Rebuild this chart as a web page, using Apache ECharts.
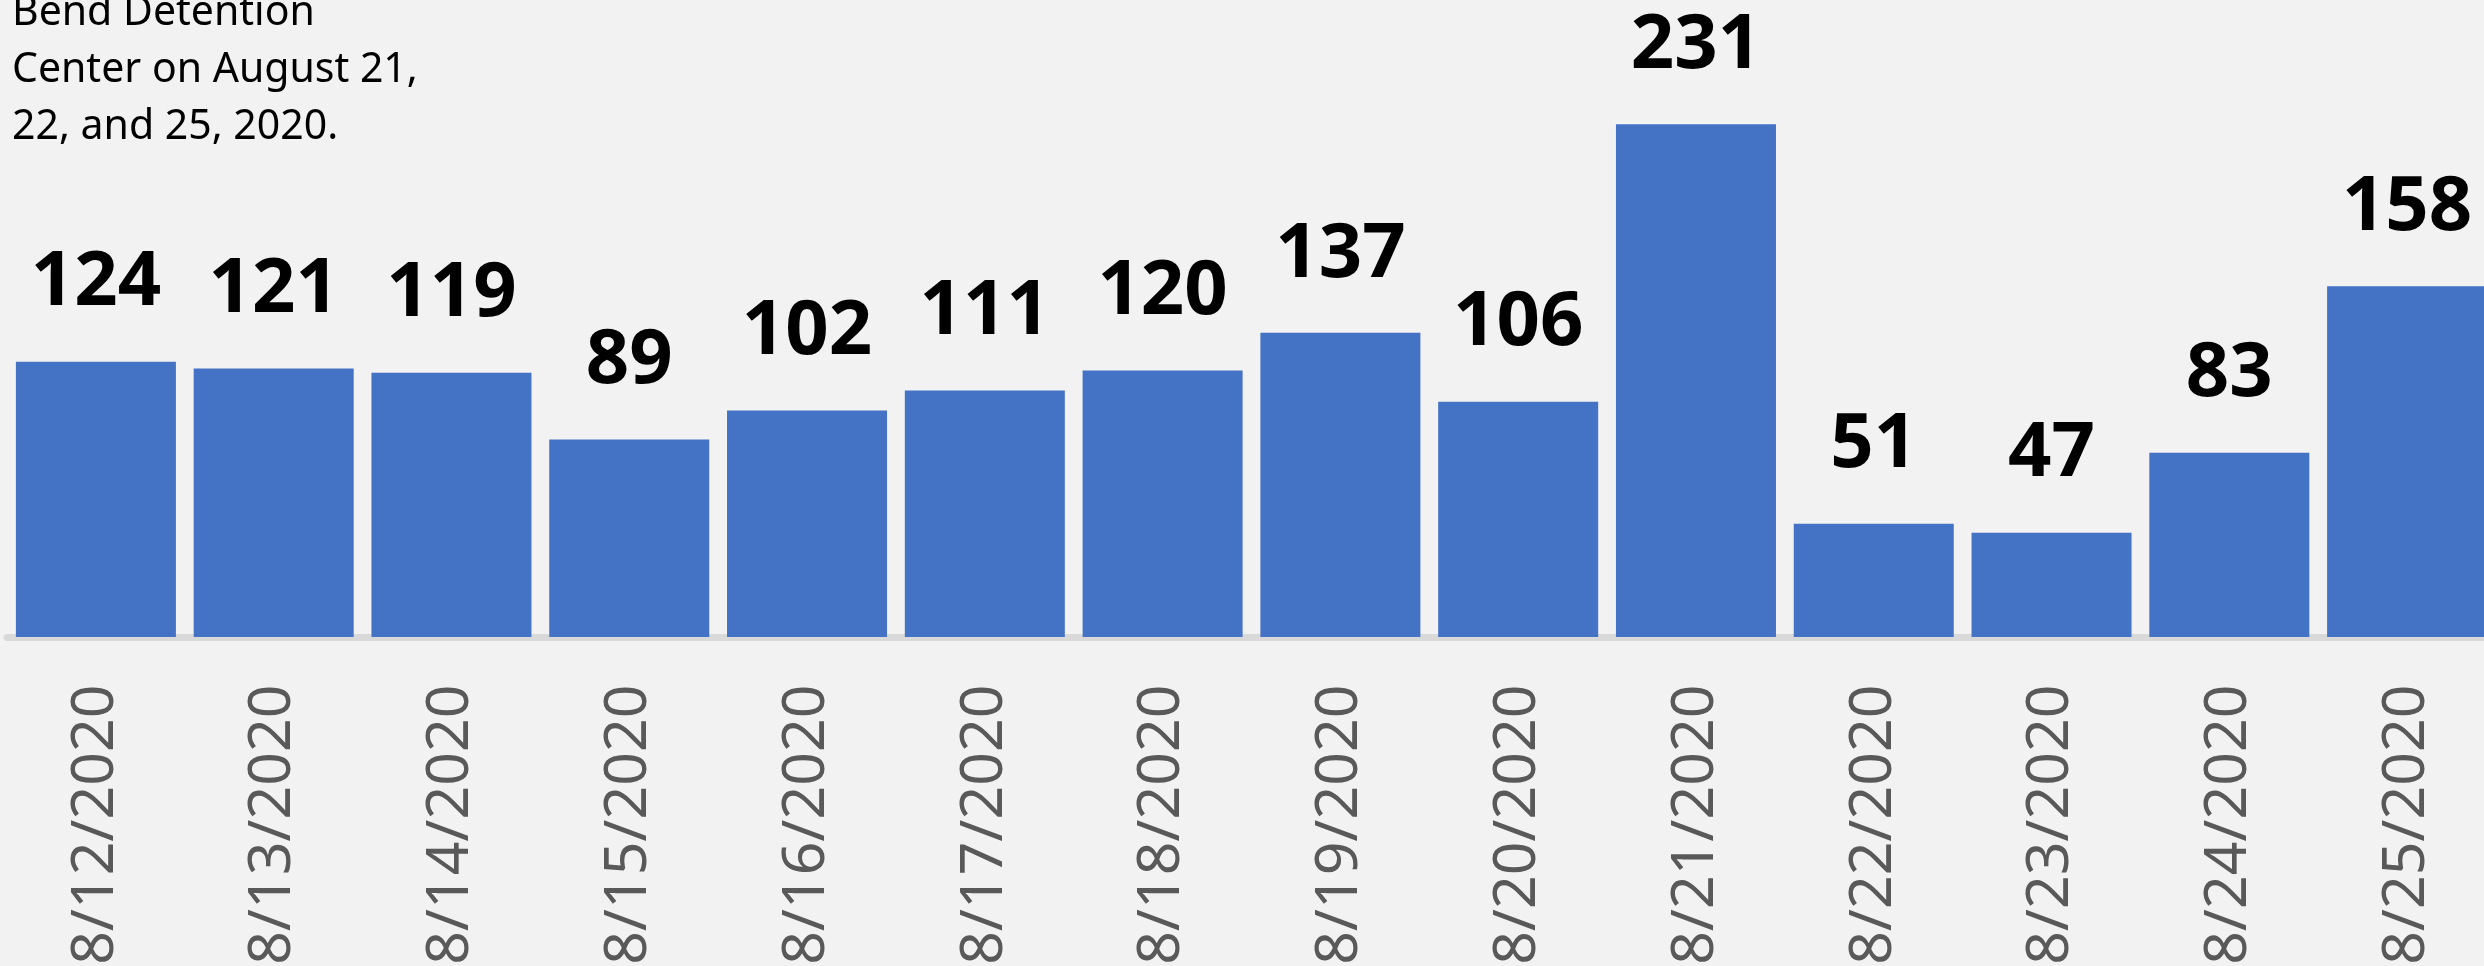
<!DOCTYPE html>
<html>
<head>
<meta charset="utf-8">
<style>
html,body{margin:0;padding:0;background:#f2f2f2;}
#chart{width:2484px;height:966px;}
</style>
<script src="https://cdn.jsdelivr.net/npm/echarts@6/dist/echarts.min.js"></script>
</head>
<body>
<div id="chart"></div>
<script>
const categories = ["8/12/2020","8/13/2020","8/14/2020","8/15/2020","8/16/2020","8/17/2020","8/18/2020","8/19/2020","8/20/2020","8/21/2020","8/22/2020","8/23/2020","8/24/2020","8/25/2020"];
const values = [124,121,119,89,102,111,120,137,106,231,51,47,83,158];
const noteLines = ["Bend Detention","Center on August 21,","22, and 25, 2020."];

const chart = echarts.init(document.getElementById('chart'), null, {renderer:'canvas'});
chart.setOption({
  backgroundColor:'#f2f2f2',
  animation:false,
  grid:{left:7, width:2489, top:82, height:555, containLabel:false, outerBoundsMode:'none'},
  xAxis:{
    type:'category',
    data:categories,
    offset:3.5,
    axisLine:{show:true, lineStyle:{color:'#d9d9d9', width:7}},
    axisTick:{show:false},
    axisLabel:{rotate:90, margin:44, color:'#595959', fontFamily:'Noto Sans', fontSize:59, interval:0}
  },
  yAxis:{type:'value', min:0, max:250, show:false, splitLine:{show:false}},
  series:[{
    type:'bar',
    data:values,
    barCategoryGap:'10%',
    itemStyle:{color:'#4472c4'},
    label:{show:true, position:'top', distance:40, color:'#000', fontFamily:'Noto Sans', fontWeight:'bold', fontSize:76}
  }],
  graphic:[{
    type:'text', left:12, top:-15,
    style:{text:noteLines.join('\n'), font:'41px "Noto Sans"', lineHeight:57, fill:'#000'}
  }]
});
</script>
</body>
</html>
